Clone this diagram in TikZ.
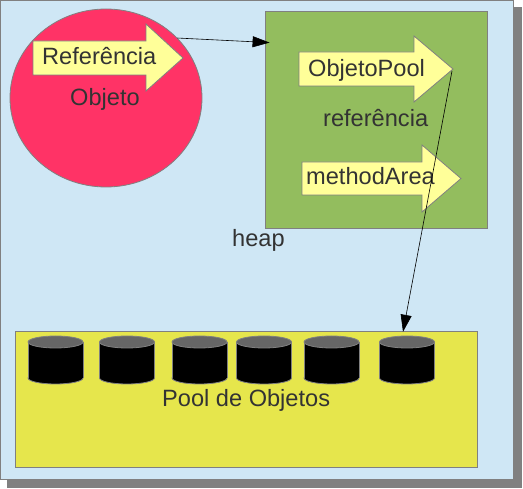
\documentclass[tikz,border=0pt]{standalone}
\usepackage{fontspec}
\setmainfont{Liberation Sans}
\usetikzlibrary{arrows.meta,shapes.geometric,calc}
\definecolor{panelblue}{HTML}{CFE7F5}
\definecolor{objred}{HTML}{FF3366}
\definecolor{heapgreen}{HTML}{93BD5E}
\definecolor{poolyellow}{HTML}{E6E64C}
\definecolor{arrowyellow}{HTML}{FFFF99}
\definecolor{edgegray}{HTML}{808080}
\definecolor{txt}{HTML}{333333}
\definecolor{cyltop}{HTML}{666666}
\tikzset{
  lbl/.style={font=\fontsize{23.6}{28}\selectfont, text=txt, inner sep=0pt, anchor=base west},
  lblc/.style={lbl, anchor=base},
  boxed/.style={draw=edgegray, line width=0.8pt},
  bigarrow/.style={boxed, fill=arrowyellow},
  conn/.style={black, line width=0.6pt, -{Triangle[length=17pt,width=11pt]}},
}
\begin{document}
\begin{tikzpicture}[x=1pt,y=-1pt]
\useasboundingbox (0,0) rectangle (523,489);
% shadow and panel
\fill[edgegray] (7,7) rectangle (522,488);
\draw[edgegray, fill=panelblue, line width=1pt] (0.5,0.5) rectangle (513,480);
% heap box
\node[boxed, fill=heapgreen, minimum width=222pt, minimum height=217pt, inner sep=0pt] (heap) at (376,119.5) {};
% pool box
\node[boxed, fill=poolyellow, minimum width=462pt, minimum height=136pt, inner sep=0pt] (pool) at (246,399) {};
% object ellipse
\node[boxed, ellipse, fill=objred, minimum width=192pt, minimum height=178pt, inner sep=0pt] (objeto) at (106,98) {};
% big arrows
\draw[bigarrow] (33,41) -- (146,41) -- (146,24) -- (183,58) -- (146,91) -- (146,75) -- (33,75) -- cycle;
\coordinate (reftip) at (183,58);
\draw[bigarrow] (299,52) -- (414,52) -- (414,36) -- (453,69) -- (414,102) -- (414,86) -- (299,86) -- cycle;
\coordinate (pooltip) at (452,71);
\draw[bigarrow] (302,162) -- (422,162) -- (422,145) -- (461,178.5) -- (422,212) -- (422,195) -- (302,195) -- cycle;
% cylinders
\foreach \i/\cx in {1/55.5,2/127,3/199.5,4/264,5/331.5,6/407}{
  \node[inner sep=0pt, minimum width=55pt, minimum height=48pt] (cyl\i) at (\cx,360) {};
  \draw[edgegray, fill=black, line width=0.8pt] (\cx,378) ellipse[x radius=27.5pt, y radius=6pt];
  \fill[black] (\cx-27.5,342) rectangle (\cx+27.5,378);
  \draw[edgegray, line width=0.8pt] (\cx-27.5,342) -- (\cx-27.5,378) (\cx+27.5,342) -- (\cx+27.5,378);
  \draw[edgegray, fill=cyltop, line width=0.8pt] (\cx,342) ellipse[x radius=27.5pt, y radius=6pt];
}
% labels
\node[lbl] (lref) at (42,65) {Referência};
\node[lblc] (lobj) at (105,106) {Objeto};
\node[lbl] (lpool) at (308,77) {ObjetoPool};
\node[lbl] (lrefer) at (323,127) {referência};
\node[lbl] (lmeth) at (306,185) {methodArea};
\node[lbl] (lheap) at (232,247) {heap};
\node[lbl] (lpoolobj) at (162,407) {Pool de Objetos};
% connectors
\draw[conn] (objeto.40) -- ($(heap.north west)+(5,32)$);
\draw[conn] (pooltip) -- ($(cyl6.north)+(-4,-4)$);
\end{tikzpicture}
\end{document}
